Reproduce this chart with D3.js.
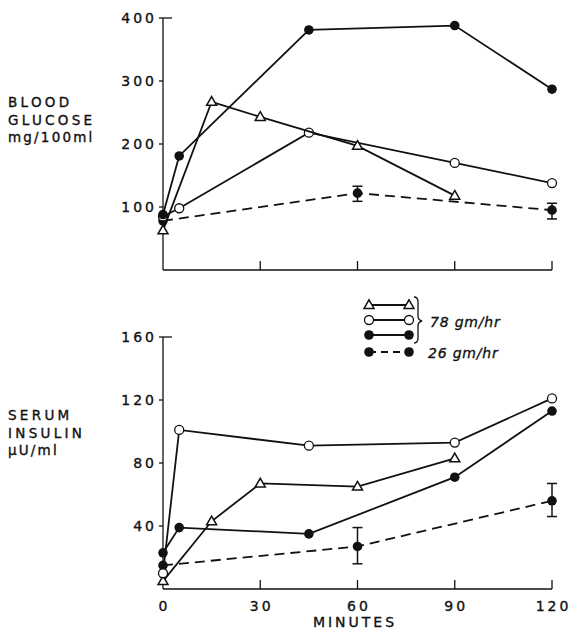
<!DOCTYPE html>
<html><head><meta charset="utf-8">
<script src="https://cdn.jsdelivr.net/npm/d3@7"></script>
<style>body{margin:0;background:#fff} text{stroke:#111;stroke-width:0.35px}</style>
</head><body>
<svg id="c" width="571" height="630"></svg>
<script>
// ---- data ----
const xTicks = [0, 30, 60, 90, 120];
const glucoseTicks = [100, 200, 300, 400];
const insulinTicks = [40, 80, 120, 160];

const glucoseTri = [[0,63],[15,267],[30,243],[60,197],[90,118]];
const glucoseOpen = [[0,85],[5,98],[45,218],[90,170],[120,138]];
const glucoseFilled = [[0,88],[5,181],[45,381],[90,388],[120,287]];
const glucoseLow = [[0,78],[60,122],[120,95]];
const glucoseLowErr = [[60,109,133],[120,81,106]];

const insulinTri = [[0,5],[15,43],[30,67],[60,65],[90,83]];
const insulinOpen = [[0,10],[5,101],[45,91],[90,93],[120,121]];
const insulinFilled = [[0,23],[5,39],[45,35],[90,71],[120,113]];
const insulinLow = [[0,15],[60,27],[120,56]];
const insulinLowErr = [[60,16,39],[120,46,67]];

const legendLabels = ["78 gm/hr", "26 gm/hr"];

// ---- drawing ----
const svg = d3.select("#c");
const x = d3.scaleLinear().domain([0,120]).range([163,552]);
const yG = d3.scaleLinear().domain([0,400]).range([270,18]);
const yI = d3.scaleLinear().domain([0,160]).range([589,337]);
const font = "'DejaVu Sans', Verdana, sans-serif";
const ink = "#111";

function panel(y, yt, labelLines, labelY0, showXLabels){
  const g = svg.append("g");
  const [y0, y1] = y.range();
  g.append("line").attr("x1", x(0)).attr("x2", x(0)).attr("y1", y0).attr("y2", y1)
    .attr("stroke", ink).attr("stroke-width", 1.3);
  yt.forEach((t, i) => {
    const last = i === yt.length - 1;
    g.append("line").attr("x1", x(0) - 4).attr("x2", x(0) + (last ? 9 : 0))
      .attr("y1", y(t)).attr("y2", y(t)).attr("stroke", ink).attr("stroke-width", 1.3);
    g.append("text").attr("x", 157).attr("y", y(t) + 5).attr("text-anchor", "end")
      .attr("font-family", font).attr("font-size", 14).attr("letter-spacing", "3px")
      .attr("fill", ink).text(String(t));
  });
  g.append("line").attr("x1", x(0)).attr("x2", x(120)).attr("y1", y0).attr("y2", y0)
    .attr("stroke", ink).attr("stroke-width", 1.3);
  xTicks.forEach(t => {
    if (t === 0) return;
    g.append("line").attr("x1", x(t)).attr("x2", x(t)).attr("y1", y0).attr("y2", y0 - 9)
      .attr("stroke", ink).attr("stroke-width", 1.3);
  });
  if (showXLabels) {
    xTicks.forEach(t => {
      g.append("text").attr("x", x(t) + 1.5).attr("y", y0 + 22).attr("text-anchor", "middle")
        .attr("font-family", font).attr("font-size", 14).attr("letter-spacing", "3px")
        .attr("fill", ink).text(String(t));
    });
  }
  labelLines.forEach((s, i) => {
    g.append("text").attr("x", 8).attr("y", labelY0 + i * 17.5)
      .attr("font-family", font).attr("font-size", 13.5).attr("letter-spacing", i === 2 ? "2.2px" : "3.3px")
      .attr("fill", ink).text(s);
  });
  return g;
}

function series(g, y, data, marker, dashed){
  const line = d3.line().x(d => x(d[0])).y(d => y(d[1]));
  g.append("path").datum(data).attr("d", line).attr("fill", "none").attr("stroke", ink)
    .attr("stroke-width", 1.8).attr("stroke-dasharray", dashed ? "10,6" : null);
  data.forEach(d => drawMarker(g, x(d[0]), y(d[1]), marker));
}

function drawMarker(g, cx, cy, marker){
  if (marker === "tri") {
    const s = 10, h = s * 0.87;
    g.append("path").attr("d", `M${cx},${cy - h*0.6}L${cx + s/2},${cy + h*0.4}L${cx - s/2},${cy + h*0.4}Z`)
      .attr("fill", "#fff").attr("stroke", ink).attr("stroke-width", 1.5);
  } else if (marker === "open") {
    g.append("circle").attr("cx", cx).attr("cy", cy).attr("r", 4.5)
      .attr("fill", "#fff").attr("stroke", ink).attr("stroke-width", 1.3);
  } else {
    g.append("circle").attr("cx", cx).attr("cy", cy).attr("r", 4.8).attr("fill", ink);
  }
}

function errors(g, y, errs){
  errs.forEach(e => {
    const cx = x(e[0]);
    g.append("line").attr("x1", cx).attr("x2", cx).attr("y1", y(e[1])).attr("y2", y(e[2]))
      .attr("stroke", ink).attr("stroke-width", 1.5);
    [e[1], e[2]].forEach(v => g.append("line").attr("x1", cx - 5).attr("x2", cx + 5)
      .attr("y1", y(v)).attr("y2", y(v)).attr("stroke", ink).attr("stroke-width", 1.5));
  });
}

const gTop = panel(yG, glucoseTicks, ["BLOOD", "GLUCOSE", "mg/100ml"], 107, false);
series(gTop, yG, glucoseLow, "filled", true);
errors(gTop, yG, glucoseLowErr);
series(gTop, yG, glucoseOpen, "open", false);
series(gTop, yG, glucoseTri, "tri", false);
series(gTop, yG, glucoseFilled, "filled", false);

const gBot = panel(yI, insulinTicks, ["SERUM", "INSULIN", "\u03BCU/ml"], 420, true);
series(gBot, yI, insulinLow, "filled", true);
errors(gBot, yI, insulinLowErr);
series(gBot, yI, insulinTri, "tri", false);
series(gBot, yI, insulinOpen, "open", false);
series(gBot, yI, insulinFilled, "filled", false);

svg.append("text").attr("x", 355).attr("y", 627).attr("text-anchor", "middle")
  .attr("font-family", font).attr("font-size", 14).attr("letter-spacing", "3px")
  .attr("fill", ink).text("MINUTES");

// legend
const lg = svg.append("g");
const legRows = [["tri", false, 305], ["open", false, 320], ["filled", false, 335], ["filled", true, 352]];
legRows.forEach(r => {
  lg.append("line").attr("x1", 369).attr("x2", 409).attr("y1", r[2]).attr("y2", r[2])
    .attr("stroke", ink).attr("stroke-width", 1.8).attr("stroke-dasharray", r[1] ? "7,5" : null);
  drawMarker(lg, 369, r[2], r[0]);
  drawMarker(lg, 409, r[2], r[0]);
});
lg.append("path").attr("d", "M414,297 Q418,297 418,302 L418,316 Q418,320 422,321 Q418,322 418,326 L418,338 Q418,343 414,343")
  .attr("fill", "none").attr("stroke", ink).attr("stroke-width", 1.3);
lg.append("text").attr("x", 430).attr("y", 327).attr("font-family", font).attr("font-size", 14)
  .attr("font-style", "italic").attr("letter-spacing", "0.8px").attr("fill", ink).text(legendLabels[0]);
lg.append("text").attr("x", 428).attr("y", 358).attr("font-family", font).attr("font-size", 14)
  .attr("font-style", "italic").attr("letter-spacing", "0.8px").attr("fill", ink).text(legendLabels[1]);
</script>
</body></html>
